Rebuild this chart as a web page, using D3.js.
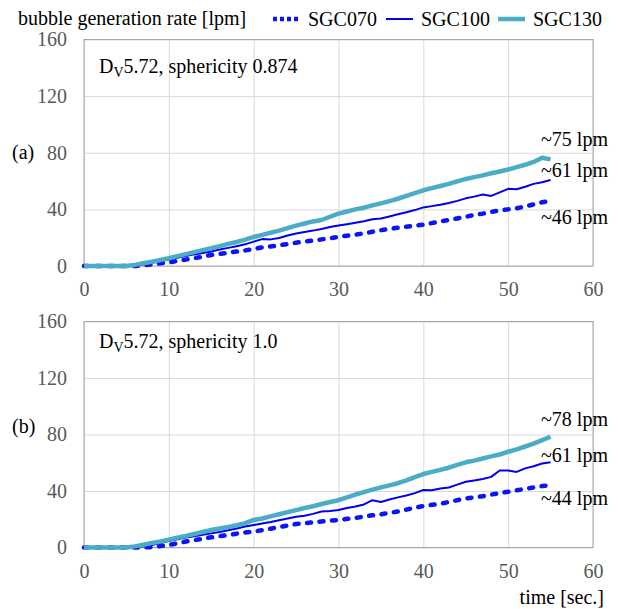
<!DOCTYPE html>
<html lang="en">

<head>
    <meta charset="UTF-8">
    <title>Bubble generation rate</title>
    <style>
        body,
        html {
            margin: 0;
            padding: 0;
            background: #fff;
        }

        svg text {
            font-family: "Liberation Serif", "Times New Roman", serif;
        }
    </style>
</head>

<body>
    <svg id="svg" width="620" height="609"></svg>

    <script src="https://d3js.org/d3.v7.min.js"></script>
    <script>
        // time [sec.]
        const time = [0, 1, 2, 3, 4, 5, 6, 7, 8, 9, 10, 11, 12, 13, 14, 15, 16, 17, 18, 19,
            20, 21, 22, 23, 24, 25, 26, 27, 28, 29, 30, 31, 32, 33, 34, 35, 36, 37, 38, 39,
            40, 41, 42, 43, 44, 45, 46, 47, 48, 49, 50, 51, 52, 53, 54, 55]

        // (a) sphericity 0.874
        const aSGC070 = [0, 0, 0, 0, 0, 0, 0, 0.5, 1.2, 1.9, 2.6, 3.5, 4.5, 5.5, 6.6, 7.8, 8.6, 9.4, 10.2, 11,
            12, 13.2, 13.8, 14.6, 15.5, 16.5, 17.2, 18, 18.8, 19.6, 20.6, 21.4, 22.2, 23, 24.2, 25.3, 26.2, 27, 27.8, 28.5,
            29.2, 30.3, 31.5, 32.5, 33.6, 34.8, 36, 37, 38.2, 39.2, 40, 40.8, 42, 43.5, 45, 46]
        const aSGC100 = [0, 0, 0, 0, 0, 0, 0, 1, 2.2, 3.4, 4.6, 5.8, 7, 8.2, 9.2, 10.3, 11.6, 12.8, 14, 15.3,
            17.2, 19, 18.8, 19.8, 21.5, 23, 24, 25, 26.2, 27.5, 28.6, 29.5, 30.5, 31.6, 33, 33.6, 35, 36.5, 38, 39.5,
            41.4, 42.3, 43.2, 44.5, 46, 47.8, 49, 50.5, 49.5, 52, 54.5, 54.2, 56, 58, 59.2, 60.7]
        const aSGC130 = [0, 0, 0, 0, 0, 0, 0.8, 2, 3, 4.2, 5.5, 7, 8.4, 9.8, 11.2, 12.5, 14, 15.6, 17, 18.6,
            20.5, 22, 23.5, 25, 26.8, 28.5, 30, 31.5, 32.5, 34.8, 37, 38.5, 40, 41.2, 42.8, 44.2, 45.8, 47.5, 49.5, 51.5,
            53.5, 55, 56.5, 58, 59.8, 61.5, 62.8, 64, 65.5, 66.8, 68.2, 69.8, 71.5, 73.5, 76.5, 75.3]

        // (b) sphericity 1.0
        const bSGC070 = [0, 0, 0, 0, 0, 0, 0, 0, 0.3, 1, 1.8, 3, 4.2, 5.2, 6.2, 7.2, 8, 8.8, 9.8, 10.6,
            11.3, 12.3, 13.3, 14.5, 15.6, 16.6, 17.2, 17.8, 18.4, 19, 19.5, 20.3, 21, 21.8, 22.8, 23.5, 24.5, 25.5, 26.8, 28.2,
            29.4, 30.2, 31, 32.2, 33.5, 34.8, 35.5, 36.3, 37.5, 38.5, 39.5, 40.5, 41.5, 42.5, 43.5, 44.2]
        const bSGC100 = [0, 0, 0, 0, 0, 0, 0, 0.8, 1.8, 3.2, 4.6, 5.8, 7, 8, 9, 10, 11, 12.2, 13.5, 14.8,
            15.9, 17, 18, 19.3, 20.5, 21.8, 22.5, 23.8, 25.5, 25.8, 26.5, 28, 29, 30.5, 33.5, 32.2, 34, 35.5, 36.8, 38.5,
            40.7, 40.5, 41.8, 42.5, 44.5, 46.5, 47.5, 48.5, 50, 54.5, 54.5, 53.5, 56, 57.5, 59.5, 60.3]
        const bSGC130 = [0, 0, 0, 0, 0, 0, 0.8, 2, 3.2, 4.3, 5.6, 7, 8.2, 9.6, 11, 12.4, 13.4, 14.5, 15.8, 17.2,
            19.5, 20.5, 22, 23.5, 25, 26.5, 28, 29.2, 30.8, 32.2, 33.5, 35.5, 37.5, 39.2, 41, 42.6, 44, 45.5, 47.5, 49.8,
            52, 53.5, 55, 56.5, 58.5, 60.3, 61.5, 63, 64.5, 65.8, 67.8, 69.5, 71.5, 73.5, 76, 78.4]

        const seriesNames = ['SGC070', 'SGC100', 'SGC130']
        const xTicks = [0, 10, 20, 30, 40, 50, 60]
        const yTicks = [0, 40, 80, 120, 160]
        const aEndLabels = ['~75 lpm', '~61 lpm', '~46 lpm']
        const bEndLabels = ['~78 lpm', '~61 lpm', '~44 lpm']

        const styles = {
            SGC070: { color: '#0a14f5', width: 4.5, dash: '4,8.5', cap: 'round', legendDash: '4,3' },
            SGC100: { color: '#0000ee', width: 2, dash: null, cap: 'butt', legendDash: null },
            SGC130: { color: '#4bacc6', width: 4.5, dash: null, cap: 'butt', legendDash: null }
        }

        const panels = [
            {
                tag: '(a)', title: '5.72, sphericity 0.874', top: 39.5, bottom: 266,
                series: [aSGC070, aSGC100, aSGC130], labels: aEndLabels,
                labelY: [146, 177, 224], tagY: 159, titleY: 73
            },
            {
                tag: '(b)', title: '5.72, sphericity 1.0', top: 321.5, bottom: 547.5,
                series: [bSGC070, bSGC100, bSGC130], labels: bEndLabels,
                labelY: [426, 462, 505], tagY: 433, titleY: 348
            }
        ]

        const svg = d3.select('#svg')
        const left = 84
        const right = 593

        const xscale = d3.scaleLinear()
            .domain([0, 60])
            .range([left, right])

        panels.forEach(p => {
            const yscale = d3.scaleLinear()
                .domain([0, 160])
                .range([p.bottom, p.top])
            const h = p.bottom - p.top
            const g = svg.append('g')

            // grid + tick labels
            const bottomAxis = d3.axisBottom(xscale)
                .tickValues(xTicks)
                .tickSizeInner(-h)
                .tickSizeOuter(0)
                .tickPadding(16)
            const xg = g.append('g')
                .attr('transform', `translate(0, ${p.bottom})`)
                .call(bottomAxis)

            const leftAxis = d3.axisLeft(yscale)
                .tickValues(yTicks)
                .tickSizeInner(-(right - left))
                .tickSizeOuter(0)
                .tickPadding(17)
            const yg = g.append('g')
                .attr('transform', `translate(${left}, 0)`)
                .call(leftAxis)

            ;[xg, yg].forEach(a => {
                a.select('.domain').remove()
                a.selectAll('line').attr('stroke', '#d9d9d9')
                a.selectAll('text')
                    .attr('fill', '#595959')
                    .style('font-size', '20px')
                    .style('font-family', '"Liberation Serif", serif')
            })

            // plot border
            g.append('rect')
                .attr('x', left)
                .attr('y', p.top)
                .attr('width', right - left)
                .attr('height', h)
                .attr('fill', 'none')
                .attr('stroke', '#a6a6a6')

            // lines
            const line = d3.line()
                .x((d, i) => xscale(time[i]))
                .y(d => yscale(d))

            p.series.forEach((values, k) => {
                const st = styles[seriesNames[k]]
                g.append('path')
                    .datum(values)
                    .attr('d', line)
                    .attr('fill', 'none')
                    .attr('stroke', st.color)
                    .attr('stroke-width', st.width)
                    .attr('stroke-linejoin', 'round')
                    .attr('stroke-linecap', st.cap)
                    .attr('stroke-dasharray', st.dash)
            })

            // panel title with subscript
            const t = g.append('text')
                .attr('x', 99)
                .attr('y', p.titleY)
                .style('font-size', '20px')
                .attr('fill', '#000')
            t.append('tspan').text('D')
            t.append('tspan').text('V')
                .style('font-size', '14px')
                .attr('dy', 4)
            t.append('tspan').text(p.title)
                .attr('dy', -4)

            g.append('text')
                .attr('x', 12)
                .attr('y', p.tagY)
                .style('font-size', '20px')
                .text(p.tag)

            g.selectAll('.endlabel')
                .data(p.labels)
                .enter()
                .append('text')
                .attr('class', 'endlabel')
                .attr('x', 541)
                .attr('y', (d, i) => p.labelY[i])
                .style('font-size', '20px')
                .text(d => d)
        })

        // legend
        svg.append('text')
            .attr('x', 18)
            .attr('y', 25)
            .style('font-size', '20px')
            .text('bubble generation rate [lpm]')

        const legendX = [273, 386, 498]
        seriesNames.forEach((name, k) => {
            const st = styles[name]
            svg.append('line')
                .attr('x1', legendX[k])
                .attr('x2', legendX[k] + 27)
                .attr('y1', 19)
                .attr('y2', 19)
                .attr('stroke', st.color)
                .attr('stroke-width', name === 'SGC100' ? 2 : 4.5)
                .attr('stroke-dasharray', st.legendDash)
            svg.append('text')
                .attr('x', legendX[k] + 35)
                .attr('y', 26)
                .style('font-size', '20px')
                .text(name)
        })

        // x-axis label
        svg.append('text')
            .attr('x', 604)
            .attr('y', 604)
            .style('text-anchor', 'end')
            .style('font-size', '20px')
            .text('time [sec.]')
    </script>
</body>

</html>
